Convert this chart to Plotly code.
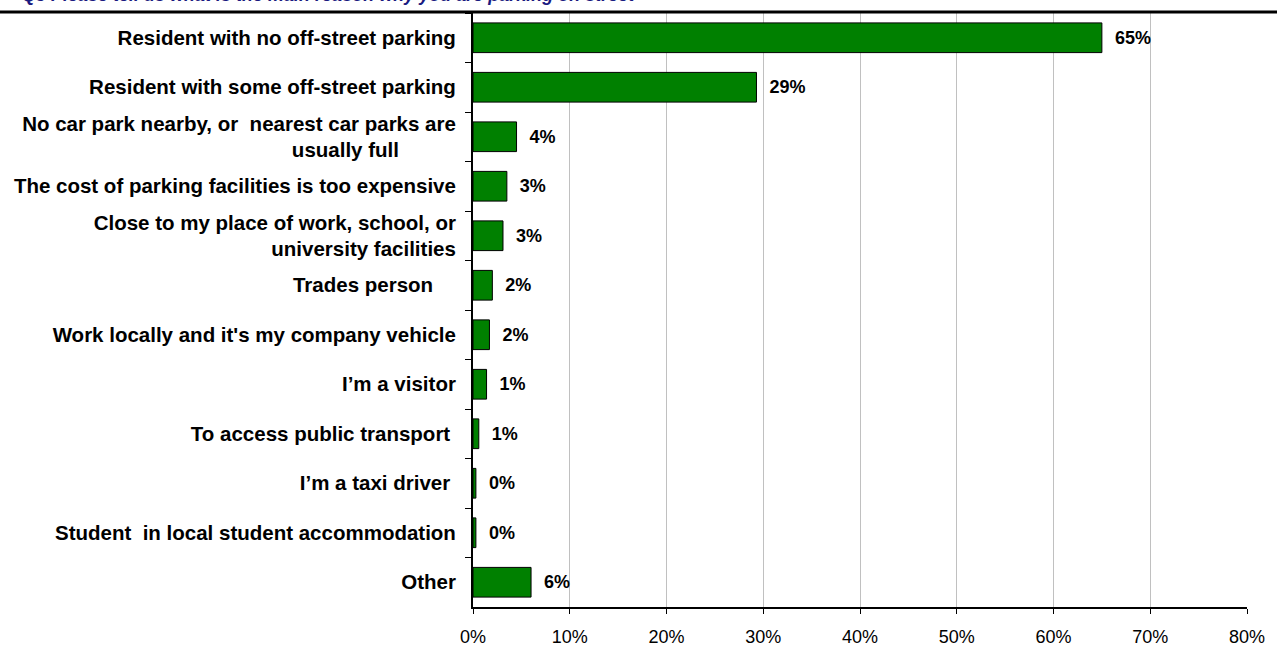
import plotly.graph_objects as go

categories = [
    "Resident with no off-street parking",
    "Resident with some off-street parking",
    "No car park nearby, or  nearest car parks are<br>usually full" + "\u00a0" * 10,
    "The cost of parking facilities is too expensive",
    "Close to my place of work, school, or<br>university facilities",
    "Trades person" + "\u00a0" * 4,
    "Work locally and it's my company vehicle",
    "I\u2019m a visitor",
    "To access public transport" + "\u00a0",
    "I\u2019m a taxi driver" + "\u00a0",
    "Student  in local student accommodation",
    "Other",
]
values = [65.0, 29.3, 4.5, 3.5, 3.1, 2.0, 1.7, 1.4, 0.6, 0.3, 0.3, 6.0]
value_labels = ["65%", "29%", "4%", "3%", "3%", "2%", "2%", "1%", "1%", "0%", "0%", "6%"]
x_ticks = [0, 10, 20, 30, 40, 50, 60, 70, 80]
x_tick_labels = ["0%", "10%", "20%", "30%", "40%", "50%", "60%", "70%", "80%"]

title_text = "Q5 Please tell us what is the main reason why you are parking on street"

FONT = "Liberation Sans, Arial, sans-serif"

fig = go.Figure(
    go.Bar(
        y=categories,
        x=values,
        orientation="h",
        marker=dict(color="#008000", line=dict(color="#000000", width=1)),
        text=["\u00a0\u00a0" + s for s in value_labels],
        textposition="outside",
        textfont=dict(family=FONT, size=18, color="#000000", weight="bold"),
        cliponaxis=False,
        width=0.6,
    )
)

L, R, T, B = 473, 30, 13, 39
W, H = 1277, 646
pw = W - L - R
ph = H - T - B

fig.update_layout(
    width=W,
    height=H,
    margin=dict(l=L, r=R, t=T, b=B, pad=0, autoexpand=False),
    plot_bgcolor="#ffffff",
    paper_bgcolor="#ffffff",
    showlegend=False,
    font=dict(family=FONT, color="#000000"),
    xaxis=dict(
        range=[0, 80],
        tickvals=x_ticks,
        ticktext=x_tick_labels,
        showgrid=True,
        gridcolor="#c0c0c0",
        gridwidth=1,
        showline=True,
        linecolor="#000000",
        linewidth=2,
        ticks="outside",
        ticklen=5,
        tickcolor="#000000",
        tickfont=dict(family=FONT, size=18, color="#000000"),
        ticklabelstandoff=7,
        zeroline=False,
        automargin=False,
    ),
    yaxis=dict(
        autorange="reversed",
        showline=True,
        linecolor="#000000",
        linewidth=2,
        ticks="outside",
        ticklen=6,
        tickcolor="#000000",
        tickson="boundaries",
        tickfont=dict(family=FONT, size=20.5, color="#000000", weight="bold"),
        ticklabelstandoff=11,
        showgrid=False,
        automargin=False,
    ),
    shapes=[
        dict(
            type="line",
            xref="paper",
            yref="paper",
            x0=-L / pw,
            x1=1 + R / pw,
            y0=1.0 + 1.0 / ph,
            y1=1.0 + 1.0 / ph,
            line=dict(color="#000000", width=3),
        )
    ],
    annotations=[
        dict(
            text=title_text,
            xref="paper",
            yref="paper",
            x=(20 - L) / pw,
            y=1.0 + (T - 7) / ph,
            xanchor="left",
            yanchor="bottom",
            showarrow=False,
            font=dict(family=FONT, size=18, color="#1a1a80", weight="bold", style="italic"),
        )
    ],
)

fig.write_html(
    "out.html",
    post_script="document.body.style.margin='0';document.body.style.overflow='hidden';",
    config={"displayModeBar": False},
)
